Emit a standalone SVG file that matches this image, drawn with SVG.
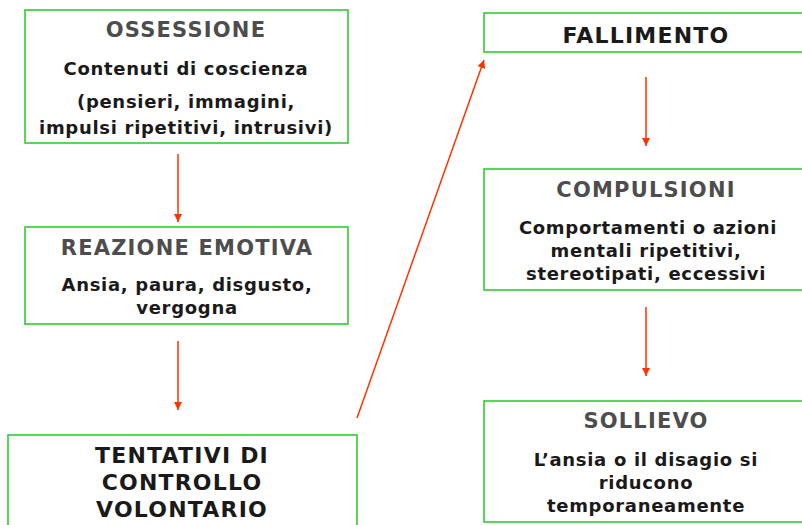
<svg xmlns="http://www.w3.org/2000/svg" width="802" height="525" viewBox="0 0 802 525">
<style>
.box{fill:#fff;stroke:#2ecc2e;stroke-width:1.6}
.t{font-family:"DejaVu Sans",Verdana,sans-serif;font-weight:bold;font-size:21px;fill:#4d4d4d;text-anchor:middle;letter-spacing:1.2px}
.k{font-family:"DejaVu Sans",Verdana,sans-serif;font-weight:bold;font-size:22px;fill:#1a1a1a;text-anchor:middle;letter-spacing:1.2px}
.b{font-family:"DejaVu Sans",Verdana,sans-serif;font-weight:bold;font-size:18px;fill:#1a1a1a;text-anchor:middle;letter-spacing:0.7px}
.c{stroke:#ff3300;stroke-width:1.5;fill:none;marker-end:url(#ah)}
</style>
<defs>
<marker id="ah" viewBox="0 0 10 10" refX="10" refY="5" markerWidth="8" markerHeight="8" markerUnits="userSpaceOnUse" orient="auto">
<path d="M0,0 L10,5 L0,10 z" fill="#ff3300"/>
</marker>
</defs>
<rect width="802" height="525" fill="#fff"/>
<g id="connectors">
<line class="c" x1="178" y1="154" x2="178" y2="222"/>
<line class="c" x1="178" y1="341" x2="178" y2="410"/>
<line class="c" x1="357" y1="418" x2="484" y2="60"/>
<line class="c" x1="646" y1="77" x2="646" y2="146"/>
<line class="c" x1="646" y1="307" x2="646" y2="376"/>
</g>
<g id="ossessione">
<rect class="box" x="25" y="10" width="323" height="133"/>
<text class="t" x="186" y="37">OSSESSIONE</text>
<text class="b" x="186" y="75">Contenuti di coscienza</text>
<text class="b" x="186" y="108">(pensieri, immagini,</text>
<text class="b" x="186" y="134">impulsi ripetitivi, intrusivi)</text>
</g>
<g id="reazione">
<rect class="box" x="25" y="227" width="323" height="97"/>
<text class="t" x="187" y="255">REAZIONE EMOTIVA</text>
<text class="b" x="187" y="291">Ansia, paura, disgusto,</text>
<text class="b" x="187" y="314">vergogna</text>
</g>
<g id="tentativi">
<rect class="box" x="8" y="435" width="349" height="100"/>
<text class="k" x="182" y="463">TENTATIVI DI</text>
<text class="k" x="182" y="490">CONTROLLO</text>
<text class="k" x="182" y="517">VOLONTARIO</text>
</g>
<g id="fallimento">
<rect class="box" x="484" y="13" width="330" height="39"/>
<text class="k" x="646" y="43">FALLIMENTO</text>
</g>
<g id="compulsioni">
<rect class="box" x="484" y="169" width="330" height="121"/>
<text class="t" x="646" y="197">COMPULSIONI</text>
<text class="b" x="648" y="234">Comportamenti o azioni</text>
<text class="b" x="646" y="257">mentali ripetitivi,</text>
<text class="b" x="646" y="280">stereotipati, eccessivi</text>
</g>
<g id="sollievo">
<rect class="box" x="484" y="401" width="330" height="121"/>
<text class="t" x="646" y="428">SOLLIEVO</text>
<text class="b" x="646" y="466">L’ansia o il disagio si</text>
<text class="b" x="646" y="489">riducono</text>
<text class="b" x="646" y="512">temporaneamente</text>
</g>
</svg>
